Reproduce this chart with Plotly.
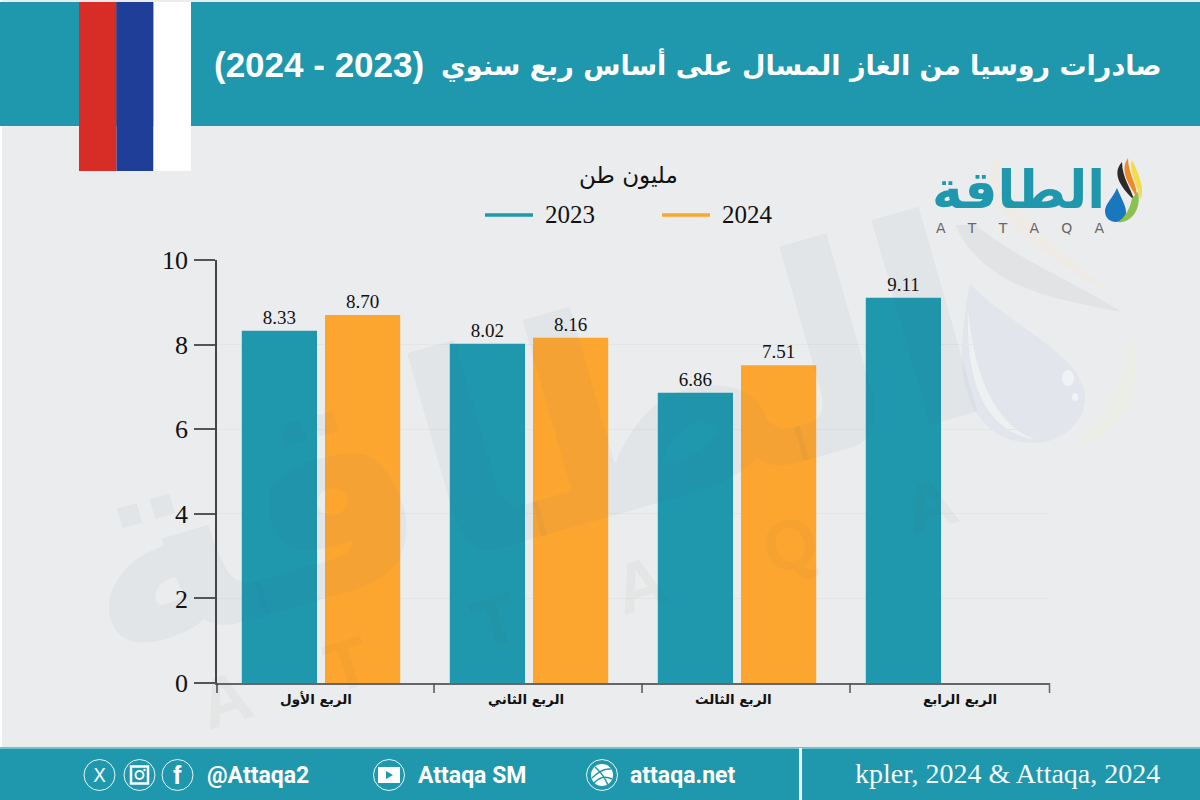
import plotly.graph_objects as go

quarters = ["الربع الأول", "الربع الثاني", "الربع الثالث", "الربع الرابع"]
series_names = ["2023", "2024"]
values_2023 = [8.33, 8.02, 6.86, 9.11]
values_2024 = [8.70, 8.16, 7.51, None]
y_ticks = [0, 2, 4, 6, 8, 10]
title_ar = "صادرات روسيا من الغاز المسال على أساس ربع سنوي"
title_years = "(2023 - 2024)"
unit = "مليون طن"
source = "kpler, 2024 & Attaqa, 2024"

TEAL = "#1f97ac"
ORANGE = "#fda62f"
BG = "#ebeced"
L, R, T, B = 217, 1049, 260, 683
AR = "DejaVu Sans"
SERIF = "Liberation Serif"


def X(p):
    return (p - L) / (R - L)


def Y(p):
    return (B - p) / (B - T)


def rect(x0, y0, x1, y1, color, layer="below"):
    return dict(type="rect", xref="paper", yref="paper", x0=X(x0), x1=X(x1), y0=Y(y0), y1=Y(y1),
                fillcolor=color, line=dict(width=0), layer=layer)


def line(x0, y0, x1, y1, color, w=1.5, layer="above"):
    return dict(type="line", xref="paper", yref="paper", x0=X(x0), x1=X(x1), y0=Y(y0), y1=Y(y1),
                line=dict(color=color, width=w), layer=layer)


def circle(cx, cy, r, fill="rgba(0,0,0,0)", stroke=None, w=1, layer="above", ry=None):
    ry = r if ry is None else ry
    return dict(type="circle", xref="paper", yref="paper", x0=X(cx - r), x1=X(cx + r), y0=Y(cy + ry), y1=Y(cy - ry),
                fillcolor=fill, line=dict(color=stroke or "rgba(0,0,0,0)", width=w if stroke else 0), layer=layer)


def path(cmds, fill, layer="below", stroke=None, w=1):
    out = []
    for c in cmds:
        if isinstance(c, str):
            out.append(c)
        else:
            out.append(f"{X(c[0]):.5f},{Y(c[1]):.5f}")
    s = " ".join(out)
    return dict(type="path", xref="paper", yref="paper", path=s, fillcolor=fill,
                line=dict(color=stroke or "rgba(0,0,0,0)", width=w if stroke else 0), layer=layer)


def text(px, py, s, size, color="#111", family=AR, xanchor="center", bold=False, angle=0):
    return dict(xref="paper", yref="paper", x=X(px), y=Y(py), text=f"<b>{s}</b>" if bold else s,
                showarrow=False, xanchor=xanchor, yanchor="middle", textangle=angle,
                font=dict(size=size, color=color, family=family))


fig = go.Figure()
fig.add_bar(name=series_names[0], x=quarters, y=values_2023, marker=dict(color=TEAL, line=dict(width=0)),
            texttemplate="%{y:.2f}", textposition="outside", cliponaxis=False,
            textfont=dict(family=SERIF, size=19, color="#111"))
fig.add_bar(name=series_names[1], x=quarters, y=values_2024, marker=dict(color=ORANGE, line=dict(width=0)),
            texttemplate="%{y:.2f}", textposition="outside", cliponaxis=False,
            textfont=dict(family=SERIF, size=19, color="#111"))

shapes = [
    rect(0, 0, 2, 800, "#ffffff"),
    # big drop watermark
    path(["M", (970, 283), "C", (1000, 320), (1085, 355), (1085, 397), "C", (1085, 425), (1060, 443), (1033, 443),
          "C", (990, 443), (962, 410), (962, 355), "C", (962, 330), (966, 305), (970, 283), "Z"], "#e2e5ec"),
    path(["M", (968, 310), "C", (966, 385), (985, 430), (1035, 440), "C", (1005, 428), (976, 395), (968, 310), "Z"], "#eef0f2"),
    circle(1068, 378, 6, "#f1f2f5", layer="below", ry=8),
    circle(1075, 397, 3, "#f1f2f5", layer="below", ry=4),
    path(["M", (955, 225), "C", (985, 290), (1060, 300), (1122, 312), "C", (1070, 280), (1020, 260), (975, 225), "Z"], "#e2e3e5"),
    path(["M", (1000, 155), "C", (960, 190), (1040, 260), (1115, 295), "C", (1060, 250), (1000, 210), (1000, 155), "Z"], "#eeeae6"),
    path(["M", (1130, 335), "C", (1150, 390), (1120, 440), (1075, 445), "C", (1105, 425), (1125, 385), (1130, 335), "Z"], "#ebeee6"),
    # header
    rect(0, 2, 1200, 126, TEAL),
    rect(79, 2, 116.5, 171, "#d82c26"),
    rect(116.5, 2, 153.5, 171, "#1e3e97"),
    rect(153.5, 2, 191, 171, "#ffffff"),
    # footer
    rect(0, 748, 1200, 800, TEAL),
    rect(0, 747, 1200, 749, "#6fc3d1"),
    rect(799, 748, 802, 800, "#f1f5f6"),
    # legend swatches
    line(485, 215, 533, 215, TEAL, 3.5),
    line(662, 215, 710, 215, ORANGE, 3.5),
    # axis stubs below the baseline
    line(217, 683, 217, 693, "#444", 1.5),
    line(434, 683, 434, 693, "#555", 1.5),
    line(642, 683, 642, 693, "#555", 1.5),
    line(850, 683, 850, 693, "#555", 1.5),
    line(1049.5, 683, 1049.5, 693, "#666", 1.5),
    # logo drop and swooshes
    path(["M", (1117, 188), "C", (1122, 200), (1126, 206), (1126, 212), "C", (1126, 219), (1121, 222), (1116, 222),
          "C", (1110, 222), (1105, 218), (1105, 211), "C", (1105, 204), (1113, 198), (1117, 188), "Z"], "#1877bd", "above"),
    path(["M", (1122, 162), "C", (1110, 175), (1124, 190), (1134, 200), "C", (1132, 190), (1122, 178), (1122, 162), "Z"], "#2a2a2a", "above"),
    path(["M", (1128, 158), "C", (1118, 172), (1132, 188), (1137, 198), "C", (1138, 186), (1128, 174), (1128, 158), "Z"], "#f08a24", "above"),
    path(["M", (1132, 160), "C", (1128, 172), (1140, 190), (1140, 200), "C", (1146, 190), (1138, 172), (1132, 160), "Z"], "#f3dc4a", "above"),
    path(["M", (1132, 198), "C", (1130, 210), (1124, 218), (1118, 222), "C", (1130, 224), (1142, 210), (1138, 192), "Z"], "#8cc152", "above"),
    # footer icons
    circle(99.5, 775, 15.5, stroke="#e8f6f8"),
    circle(139.5, 775, 15.5, stroke="#e8f6f8"),
    circle(177.5, 775, 15.5, stroke="#e8f6f8"),
    circle(389, 775, 15.5, stroke="#e8f6f8"),
    circle(602, 775, 15.5, stroke="#e8f6f8"),
    dict(type="rect", xref="paper", yref="paper", x0=X(131), x1=X(148), y0=Y(783.5), y1=Y(766.5),
         line=dict(color="white", width=2.5), fillcolor="rgba(0,0,0,0)", layer="above"),
    circle(139.5, 775, 4, stroke="white", w=2),
    circle(144.5, 770, 1.2, fill="white"),
    rect(378, 767, 400, 783, "white", "above"),
    path(["M", (386, 771), "L", (386, 779), "L", (393, 775), "Z"], TEAL, "above"),
    circle(602, 775, 11, fill="white"),
    path(["M", (595, 767), "Q", (604, 775), (608, 785)], "rgba(0,0,0,0)", "above", TEAL, 1.5),
    path(["M", (592, 778), "Q", (602, 768), (611, 769)], "rgba(0,0,0,0)", "above", TEAL, 1.5),
    path(["M", (594, 783), "Q", (602, 774), (612, 779)], "rgba(0,0,0,0)", "above", TEAL, 1.5),
]

anns = [
    # watermark
    text(525, 440, "الطاقة", 280, "rgba(50,100,140,0.05)", AR, bold=True, angle=-16),
]
for (lx, ly), ch in zip([(225, 700), (347, 665), (495, 622), (640, 585), (790, 545), (930, 505)], "ATTAQA"):
    anns.append(text(lx, ly, ch, 70, "rgba(90,90,90,0.05)", "Liberation Sans", bold=True, angle=-17))

anns += [
    text(1163, 65, "\u202b" + title_ar + "\u202c", 27, "white", AR, "right", bold=True),
    text(212, 65, "\u202b" + title_years + "\u202c", 35, "white", "Liberation Sans", "left", bold=True),
    text(628, 176, unit, 23, "#111", AR),
    text(569.5, 215, series_names[0], 25, "#111", SERIF),
    text(747, 215, series_names[1], 25, "#111", SERIF),
    text(1018, 190, "الطاقة", 52, TEAL, AR, bold=True),
    text(1020, 228, "A     T     T     A     Q     A", 14, "#666", "DejaVu Sans"),
    text(99.5, 775, "X", 19, "#f4fbfc", "DejaVu Sans"),
    text(177.5, 775, "f", 25, "white", "Liberation Sans", bold=True),
    text(258, 775, "@Attaqa2", 23, "white", "Roboto", bold=True),
    text(471.5, 775, "Attaqa SM", 23, "white", "Roboto", bold=True),
    text(682, 775, "attaqa.net", 23, "white", "Roboto", bold=True),
    text(1162, 773, source, 28, "#f4fbfc", SERIF, "right"),
]
for q, shift in zip(quarters, [-5, -3, -4, 15]):
    anns.append(dict(x=q, xref="x", yref="paper", y=Y(699), text=f"<b>{q}</b>", showarrow=False,
                     xshift=shift, yanchor="middle", font=dict(size=13.5, color="#111", family=AR)))

fig.update_layout(
    width=1200, height=800, margin=dict(l=L, r=1200 - R, t=T, b=800 - B),
    paper_bgcolor=BG, plot_bgcolor="rgba(0,0,0,0)", showlegend=False,
    barmode="group", bargap=0.2, bargroupgap=0.096,
    shapes=shapes, annotations=anns,
    xaxis=dict(type="category", range=[-0.5, 3.5], showticklabels=False, ticks="", showgrid=False,
               showline=True, linecolor="#666", linewidth=2, zeroline=False, fixedrange=True),
    yaxis=dict(range=[0, 10], tickvals=y_ticks, ticks="outside", ticklen=21, tickwidth=1.5, tickcolor="#555",
               tickfont=dict(family=SERIF, size=26, color="#111"), ticklabelstandoff=1,
               showline=True, linecolor="#444", linewidth=1.5, showgrid=True, gridcolor="#e3e5e6", gridwidth=1,
               zeroline=False, fixedrange=True),
)
fig.write_html("out.html", config={"displayModeBar": False},
               post_script="document.body.style.margin='0';")
